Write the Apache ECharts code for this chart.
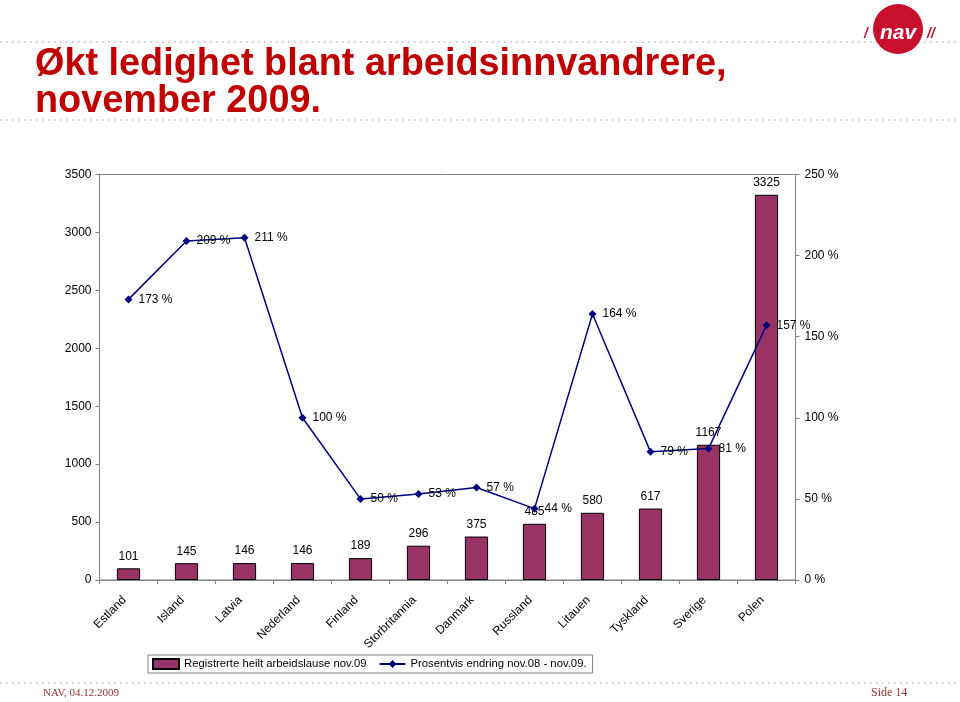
<!DOCTYPE html>
<html>
<head>
<meta charset="utf-8">
<script src="https://cdn.jsdelivr.net/npm/echarts@6/dist/echarts.min.js"></script>
<style>html,body{margin:0;padding:0;background:#fff;}#c{width:960px;height:702px;}</style>
</head>
<body>
<div id="c"></div>
<script>
var categories = ['Estland','Island','Latvia','Nederland','Finland','Storbritannia','Danmark','Russland','Litauen','Tyskland','Sverige','Polen'];
var registrerte = [101,145,146,146,189,296,375,485,580,617,1167,3325];
var endring = [173,209,211,100,50,53,57,44,164,79,81,157];
var leftTicks = {min:0, max:3500, interval:500};
var rightTicks = {min:0, max:250, interval:50};
var barName = 'Registrerte heilt arbeidslause nov.09';
var lineName = 'Prosentvis endring nov.08 - nov.09.';

var FONT = "'Liberation Sans', Arial, sans-serif";
var chart = echarts.init(document.getElementById('c'));
var dot = {stroke:'#9a9a9a', lineWidth:1.2, lineDash:[1.5,4.5]};
chart.setOption({
  animation:false,
  backgroundColor:'#fff',
  textStyle:{fontFamily:FONT},
  grid:{left:99.5, right:164.5, top:174.5, bottom:122, show:true, borderColor:'#808080', borderWidth:1, backgroundColor:'transparent'},
  legend:{
    left:148, top:655, padding:[3,6,3,4], itemWidth:26, itemHeight:10, itemGap:12,
    borderColor:'#808080', borderWidth:1, backgroundColor:'#fff',
    textStyle:{fontSize:11.3, color:'#000', fontFamily:FONT},
    data:[{name:barName, icon:'rect'}, lineName]
  },
  xAxis:{
    type:'category', data:categories, boundaryGap:true,
    axisLine:{lineStyle:{color:'#808080'}},
    axisTick:{show:true, length:4, lineStyle:{color:'#808080'}},
    axisLabel:{rotate:45, fontSize:12, color:'#000', margin:14, padding:[0,6,0,0], interval:0, fontFamily:FONT}
  },
  yAxis:[
    {type:'value', min:leftTicks.min, max:leftTicks.max, interval:leftTicks.interval,
     splitLine:{show:false},
     axisLine:{show:true, lineStyle:{color:'#808080'}},
     axisTick:{show:true, length:4, lineStyle:{color:'#808080'}},
     axisLabel:{fontSize:12, color:'#000', margin:8, fontFamily:FONT, formatter:function(v){return String(v);}}},
    {type:'value', min:rightTicks.min, max:rightTicks.max, interval:rightTicks.interval,
     splitLine:{show:false}, position:'right',
     axisLine:{show:true, lineStyle:{color:'#808080'}},
     axisTick:{show:true, length:4, lineStyle:{color:'#808080'}},
     axisLabel:{fontSize:12, color:'#000', margin:9, formatter:'{value} %', fontFamily:FONT}}
  ],
  series:[
    {name:barName, type:'bar', data:registrerte, yAxisIndex:0, barCategoryGap:'60%',
     itemStyle:{color:'#993366', borderColor:'#000', borderWidth:1},
     label:{show:true, position:'top', distance:6, fontSize:12, color:'#000', fontFamily:FONT}},
    {name:lineName, type:'line', data:endring, yAxisIndex:1, symbol:'diamond', symbolSize:8,
     lineStyle:{color:'#000080', width:1.5}, itemStyle:{color:'#000080'},
     label:{show:true, position:'right', distance:6, fontSize:12, color:'#000', formatter:'{c} %', fontFamily:FONT}, z:5}
  ],
  graphic:[
    {type:'line', shape:{x1:0,y1:42,x2:960,y2:42}, style:dot, silent:true},
    {type:'line', shape:{x1:0,y1:120,x2:960,y2:120}, style:dot, silent:true},
    {type:'line', shape:{x1:0,y1:683,x2:960,y2:683}, style:dot, silent:true},
    {type:'text', x:35, y:46, scaleX:0.97, style:{text:'Økt ledighet blant arbeidsinnvandrere,\nnovember 2009.', fill:'#c00000', font:"bold 39px 'Liberation Sans', Arial, sans-serif", lineHeight:37}},
    {type:'circle', shape:{cx:898, cy:29, r:25}, style:{fill:'#c8102e'}, z:10},
    {type:'text', x:898, y:33, style:{text:'nav', fill:'#fff', font:"italic bold 21px 'Liberation Sans', sans-serif", align:'center', verticalAlign:'middle'}, z:11},
    {type:'text', x:866, y:34, style:{text:'/', fill:'#c8102e', font:"italic bold 14px 'Liberation Sans', sans-serif", align:'center', verticalAlign:'middle', backgroundColor:'#fff'}, z:11},
    {type:'text', x:931, y:34, style:{text:'//', fill:'#c8102e', font:"italic bold 14px 'Liberation Sans', sans-serif", align:'center', verticalAlign:'middle', backgroundColor:'#fff'}, z:11},
    {type:'text', x:43, y:693, style:{text:'NAV, 04.12.2009', fill:'#993333', font:"11px 'Liberation Serif', serif", verticalAlign:'middle'}},
    {type:'text', x:871, y:693, style:{text:'Side 14', fill:'#993333', font:"12px 'Liberation Serif', serif", verticalAlign:'middle'}}
  ]
});
</script>
</body>
</html>
